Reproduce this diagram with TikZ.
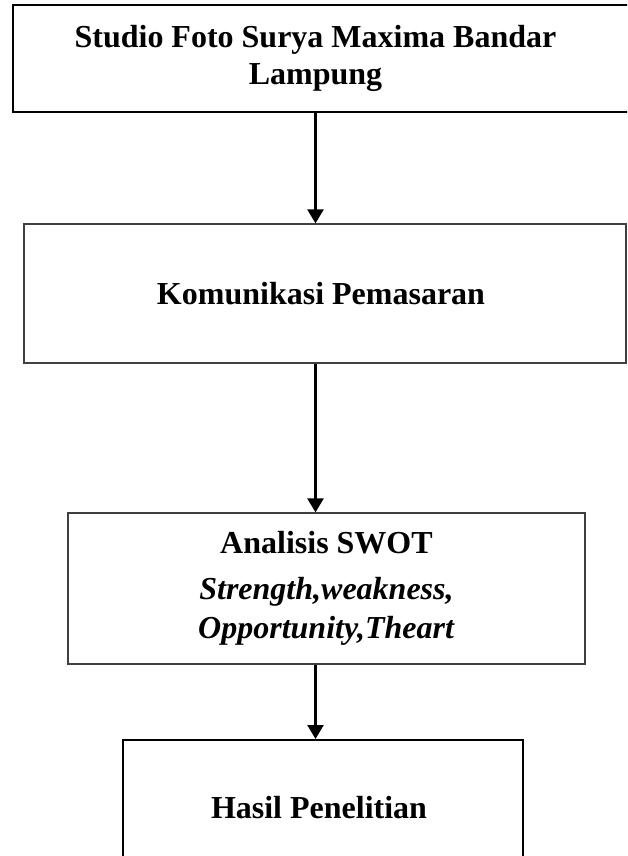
\documentclass[tikz,border=0pt]{standalone}
\usepackage{fontspec}
\setmainfont{Liberation Serif}
\usetikzlibrary{arrows.meta}

\tikzset{
  kotak/.style={draw=black!75, line width=1.2pt, inner sep=0pt, align=center,
    font=\fontsize{32}{39}\selectfont\bfseries},
  kotaktebal/.style={kotak, draw=black, line width=2pt},
  panah/.style={-{Triangle[width=16pt,length=14pt]}, line width=2.4pt}
}

\begin{document}
\begin{tikzpicture}[x=1pt,y=-1pt]
            \clip (0,0) rectangle (627,856);
            \coordinate (ax) at (315.5,0);
            \node[kotaktebal, minimum width=617pt, minimum height=107pt] (studio) at (321.5,58.5) {
                \hspace*{-12pt}Studio Foto Surya Maxima Bandar\\[-2pt]
                \hspace*{-12pt}Lampung
            };
            \node[kotak, minimum width=602pt, minimum height=139pt] (komunikasi) at (325,293.5) {
                Komunikasi Pemasaran
            };
            \node[kotak, minimum width=517pt, minimum height=151pt] (swot) at (326.5,588.5) {
                Analisis SWOT\\[7pt]
                \textit{Strength,weakness,}\\
                \textit{Opportunity,Theart}
            };
            \node[kotaktebal, minimum width=400pt, minimum height=136pt] (hasil) at (323,808) {
                Hasil Penelitian
            };
            \draw[panah] (studio.south -| ax) -- (komunikasi.north -| ax);
            \draw[panah] (komunikasi.south -| ax) -- (swot.north -| ax);
            \draw[panah] (swot.south -| ax) -- (hasil.north -| ax);
        \end{tikzpicture}
\end{document}
